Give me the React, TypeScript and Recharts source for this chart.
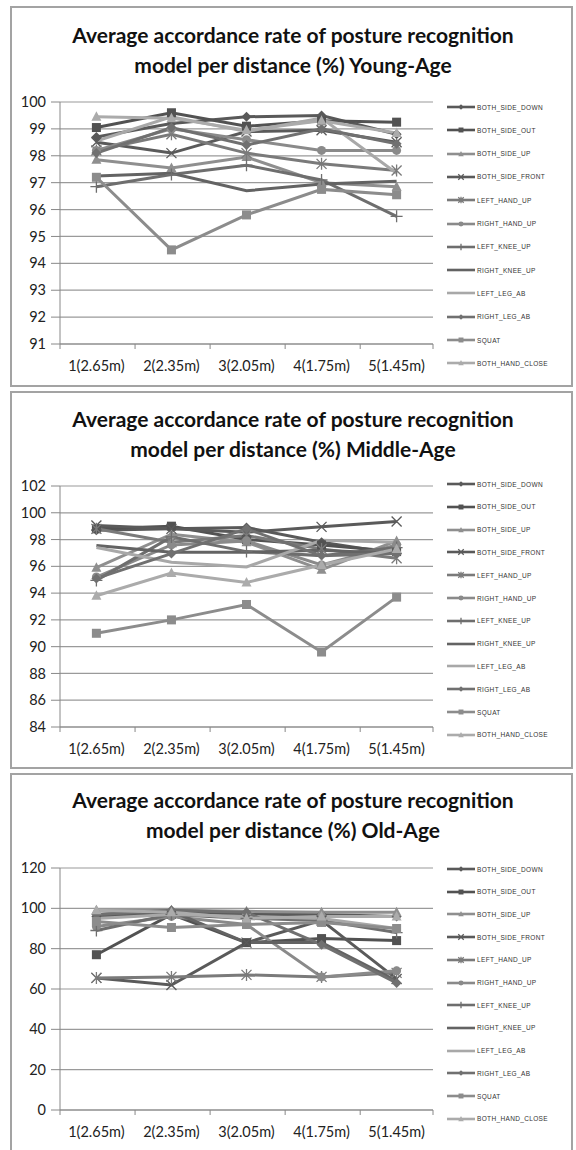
import React from "react";
import { CartesianGrid, Line, LineChart, XAxis, YAxis } from "recharts";

const distances = ["1(2.65m)", "2(2.35m)", "3(2.05m)", "4(1.75m)", "5(1.45m)"];

const postures = [
  "BOTH_SIDE_DOWN",
  "BOTH_SIDE_OUT",
  "BOTH_SIDE_UP",
  "BOTH_SIDE_FRONT",
  "LEFT_HAND_UP",
  "RIGHT_HAND_UP",
  "LEFT_KNEE_UP",
  "RIGHT_KNEE_UP",
  "LEFT_LEG_AB",
  "RIGHT_LEG_AB",
  "SQUAT",
  "BOTH_HAND_CLOSE",
];

// one row per posture, in the order above
const youngValues = [
  [98.7, 99.2, 99.45, 99.5, 98.8],
  [99.05, 99.6, 99.1, 99.3, 99.25],
  [97.85, 97.55, 97.95, 97.0, 96.85],
  [98.5, 98.1, 98.9, 98.95, 98.5],
  [98.2, 98.8, 98.1, 97.7, 97.45],
  [98.2, 99.0, 98.6, 98.2, 98.2],
  [96.85, 97.3, 97.65, 97.1, 95.75],
  [97.25, 97.35, 96.7, 96.95, 97.05],
  [98.55, 99.45, 98.9, 99.4, 97.35],
  [98.1, 99.05, 98.4, 99.0, 98.45],
  [97.2, 94.5, 95.8, 96.75, 96.55],
  [99.45, 99.4, 98.95, 99.3, 98.85],
];

const middleValues = [
  [98.7, 98.8, 98.9, 97.8, 96.95],
  [98.8, 99.0, 98.0, 97.6, 97.1],
  [95.9, 98.4, 97.8, 95.75, 97.9],
  [99.05, 98.8, 98.55, 98.95, 99.35],
  [98.8, 97.8, 98.3, 97.3, 96.6],
  [95.2, 97.6, 97.9, 96.1, 97.6],
  [94.95, 98.2, 97.1, 96.8, 97.4],
  [97.55, 97.05, 97.05, 97.2, 96.95],
  [97.4, 96.3, 95.95, 97.95, 97.8],
  [95.1, 96.95, 98.8, 96.8, 96.95],
  [91.0, 92.0, 93.15, 89.6, 93.7],
  [93.8, 95.5, 94.8, 96.1, 97.3],
];

const oldValues = [
  [96, 98, 97, 97, 96],
  [77, 97, 83, 85, 84],
  [99, 99, 98.5, 98, 98],
  [65.5, 62, 83, 94, 65],
  [65.5, 66, 67, 66, 68],
  [91, 96, 92, 66, 69],
  [89, 97, 95, 94, 88],
  [97, 98.5, 83, 83, 64],
  [95, 97, 96, 95, 90],
  [97, 99, 98, 82, 63],
  [93.5, 90.5, 92, 93, 90],
  [99, 98, 95, 96, 96],
];

const youngTicks = [91, 92, 93, 94, 95, 96, 97, 98, 99, 100];
const middleTicks = [84, 86, 88, 90, 92, 94, 96, 98, 100, 102];
const oldTicks = [0, 20, 40, 60, 80, 100, 120];

const colors = [
  "#595959", "#525252", "#8f8f8f", "#5a5a5a", "#7a7a7a", "#8a8a8a",
  "#6e6e6e", "#636363", "#a8a8a8", "#707070", "#8c8c8c", "#ababab",
];
const markers = [
  "diamond", "square", "triangle", "x", "star", "circle",
  "plus", "none", "none", "diamond", "square", "triangle",
];

const FONT = "Lato, 'Open Sans', sans-serif";

function Marker({ shape, cx, cy, color, s = 1 }: any) {
  if (cx == null || cy == null) return null;
  const k = (n: number) => n * s;
  switch (shape) {
    case "diamond":
      return <path d={`M${cx},${cy - k(5)}L${cx + k(5)},${cy}L${cx},${cy + k(5)}L${cx - k(5)},${cy}Z`} fill={color} />;
    case "square":
      return <rect x={cx - k(4.5)} y={cy - k(4.5)} width={k(9)} height={k(9)} fill={color} />;
    case "triangle":
      return <path d={`M${cx},${cy - k(5.5)}L${cx + k(5)},${cy + k(4)}L${cx - k(5)},${cy + k(4)}Z`} fill={color} />;
    case "circle":
      return <circle cx={cx} cy={cy} r={k(4.5)} fill={color} />;
    case "x":
      return (
        <path d={`M${cx - k(5)},${cy - k(5)}L${cx + k(5)},${cy + k(5)}M${cx + k(5)},${cy - k(5)}L${cx - k(5)},${cy + k(5)}`} stroke={color} strokeWidth={1.3} />
      );
    case "star":
      return (
        <path
          d={`M${cx - k(5)},${cy - k(5)}L${cx + k(5)},${cy + k(5)}M${cx + k(5)},${cy - k(5)}L${cx - k(5)},${cy + k(5)}M${cx},${cy - k(6)}L${cx},${cy + k(6)}`}
          stroke={color}
          strokeWidth={1.3}
        />
      );
    case "plus":
      return (
        <path d={`M${cx - k(6)},${cy}L${cx + k(6)},${cy}M${cx},${cy - k(6)}L${cx},${cy + k(6)}`} stroke={color} strokeWidth={1.3} />
      );
    default:
      return null;
  }
}

function DistanceTick(props: any) {
  const { x, y, payload, index, visibleTicksCount } = props;
  const half = 36.4;
  const ay = y - 6;
  return (
    <g>
      <line x1={x - half} y1={ay} x2={x - half} y2={ay + 5} stroke="#888" />
      {index === visibleTicksCount - 1 && (
        <line x1={x + half} y1={ay} x2={x + half} y2={ay + 5} stroke="#888" />
      )}
      <text x={x} y={y + 21} textAnchor="middle" fontSize={14.5} fill="#222" fontFamily={FONT}>
        {payload.value}
      </text>
    </g>
  );
}

function Panel({ title, values, ticks, top, height, plotTop, plotBottom, titleTop, legendTop, legendGap }: any) {
  const data = distances.map((d, i) => {
    const row: any = { name: d };
    postures.forEach((p, s) => {
      row[p] = values[s][i];
    });
    return row;
  });
  const width = 563;
  return (
    <div
      style={{
        position: "absolute",
        left: 10,
        top,
        width,
        height,
        boxShadow: "inset 0 0 0 2px #a3a3a3",
        background: "#fff",
      }}
    >
      <div
        style={{
          position: "absolute",
          left: 0,
          top: titleTop,
          width: 566,
          textAlign: "center",
          fontFamily: FONT,
          fontWeight: 700,
          fontSize: 21,
          lineHeight: "30px",
          color: "#111",
        }}
      >
        <div>Average accordance rate of posture recognition</div>
        <div>model per distance (%) {title}</div>
      </div>
      <div style={{ position: "absolute", left: 0, top: 0 }}>
        <LineChart
          width={width}
          height={height}
          data={data}
          margin={{ top: plotTop, right: 140, bottom: height - plotBottom - 30, left: 0 }}
        >
          <CartesianGrid vertical={false} stroke="#9a9a9a" strokeWidth={1.2} />
          <XAxis
            dataKey="name"
            height={30}
            padding={{ left: 36.4, right: 36.4 }}
            axisLine={{ stroke: "#888" }}
            tickLine={false}
            tickSize={6}
            tickMargin={0}
            interval={0}
            tick={<DistanceTick />}
          />
          <YAxis
            width={50}
            domain={[ticks[0], ticks[ticks.length - 1]]}
            ticks={ticks}
            interval={0}
            axisLine={{ stroke: "#888" }}
            tickLine={{ stroke: "#888" }}
            tickSize={9}
            tickMargin={5}
            tick={{ fontSize: 14.5, fill: "#222", fontFamily: FONT }}
          />
          {postures.map((p, s) => (
            <Line
              key={p}
              dataKey={p}
              stroke={colors[s]}
              strokeWidth={3}
              isAnimationActive={false}
              activeDot={false}
              dot={
                markers[s] === "none"
                  ? false
                  : (dp: any) => (
                      <g key={`${p}-${dp.index}`}>
                        <Marker shape={markers[s]} cx={dp.cx} cy={dp.cy} color={colors[s]} />
                      </g>
                    )
              }
            />
          ))}
        </LineChart>
      </div>
      {postures.map((p, s) => (
        <div
          key={p}
          style={{
            position: "absolute",
            left: 437,
            top: legendTop + s * legendGap - 6,
            height: 12,
            display: "flex",
            alignItems: "center",
          }}
        >
          <svg width={30} height={12}>
            <line x1={0} y1={6} x2={28} y2={6} stroke={colors[s]} strokeWidth={2.6} />
            <Marker shape={markers[s]} cx={14} cy={6} color={colors[s]} s={0.55} />
          </svg>
          <span
            style={{
              fontFamily: "'Liberation Sans', Arial, sans-serif",
              fontSize: 6.5,
              letterSpacing: 0.35,
              color: "#333",
              whiteSpace: "nowrap",
            }}
          >
            {p}
          </span>
        </div>
      ))}
    </div>
  );
}

export default function App() {
  return (
    <div style={{ position: "absolute", left: 0, top: 0, width: 576, height: 1150, overflow: "hidden", background: "#fff" }}>
      <Panel
        title="Young-Age"
        values={youngValues}
        ticks={youngTicks}
        top={6}
        height={381}
        plotTop={96}
        plotBottom={338}
        titleTop={14}
        legendTop={101}
        legendGap={23.3}
      />
      <Panel
        title="Middle-Age"
        values={middleValues}
        ticks={middleTicks}
        top={391}
        height={378}
        plotTop={95}
        plotBottom={336}
        titleTop={13}
        legendTop={93}
        legendGap={22.8}
      />
      <Panel
        title="Old-Age"
        values={oldValues}
        ticks={oldTicks}
        top={773}
        height={385}
        plotTop={95}
        plotBottom={337}
        titleTop={12}
        legendTop={96}
        legendGap={22.7}
      />
    </div>
  );
}
